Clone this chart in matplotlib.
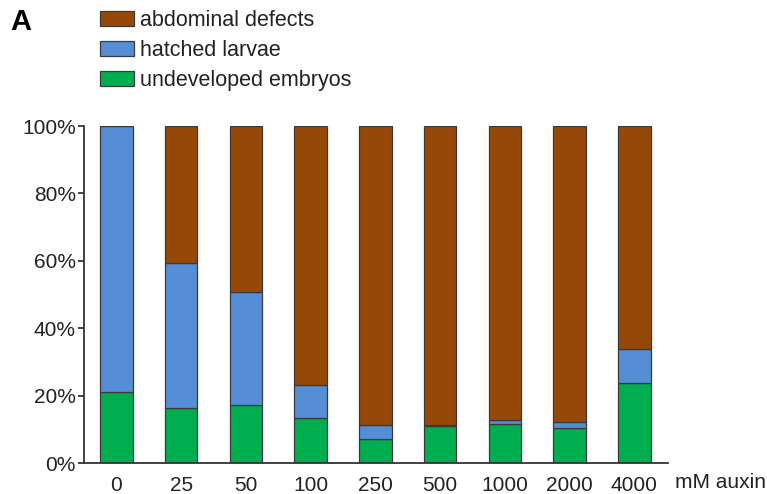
import matplotlib
matplotlib.use("Agg")
import matplotlib.pyplot as plt
import numpy as np

plt.rcParams["font.family"] = ["Liberation Sans", "DejaVu Sans"]

# data (percent of embryos per auxin dose)
doses = ["0", "25", "50", "100", "250", "500", "1000", "2000", "4000"]
undeveloped = [21.1, 16.2, 17.1, 13.3, 7.1, 11.1, 11.6, 10.3, 23.7]
hatched = [78.9, 43.1, 33.5, 9.8, 4.2, 0.3, 1.2, 1.8, 10.1]
abdominal = [0.0, 40.7, 49.4, 76.9, 88.7, 88.6, 87.2, 87.9, 66.2]

c_abd = "#964906"
c_hat = "#558ED5"
c_und = "#00AE50"
edge = "#3a3a3a"

fig = plt.figure(figsize=(7.67, 4.94), dpi=100)
ax = fig.add_axes([84 / 767, 31 / 494, (668 - 84) / 767, 337 / 494])

x = np.arange(len(doses))
under = np.array(undeveloped)
hat = np.array(hatched)
b1 = ax.bar(x, undeveloped, width=0.5, color=c_und, edgecolor=edge, linewidth=0.9,
            label="undeveloped embryos")
b2 = ax.bar(x, hatched, width=0.5, bottom=under, color=c_hat, edgecolor=edge,
            linewidth=0.9, label="hatched larvae")
b3 = ax.bar(x, abdominal, width=0.5, bottom=under + hat, color=c_abd, edgecolor=edge,
            linewidth=0.9, label="abdominal defects")

ax.set_xlim(-0.5, 8.52)
ax.set_ylim(0, 100)
ax.set_yticks(np.arange(0, 101, 20))
ax.set_yticklabels([f"{v}%" for v in range(0, 101, 20)])
ax.set_xticks(x)
ax.set_xticklabels(doses)
ax.tick_params(axis="x", length=0, pad=9, labelsize=15, colors="#222222")
ax.tick_params(axis="y", length=4, width=1.2, pad=2, labelsize=15, colors="#222222")
for s in ["top", "right"]:
    ax.spines[s].set_visible(False)
for s in ["left", "bottom"]:
    ax.spines[s].set_linewidth(1.3)
    ax.spines[s].set_color("#333333")

ax.text(1.012, -0.058, "mM auxin", transform=ax.transAxes, ha="left", va="center",
        fontsize=15, color="#222222")

fig.legend(handles=[b3, b2, b1], loc="upper left", bbox_to_anchor=(100 / 767, 1 - 10 / 494),
           frameon=False, fontsize=15.5, handlelength=1.6, handleheight=0.75,
           handletextpad=0.25, labelspacing=0.42, borderpad=0, borderaxespad=0,
           labelcolor="#222222")

fig.text(10 / 767, 1 - 8 / 494, "A", fontsize=21, fontweight="bold", ha="left", va="top")

fig.savefig("out.png", dpi=100)
